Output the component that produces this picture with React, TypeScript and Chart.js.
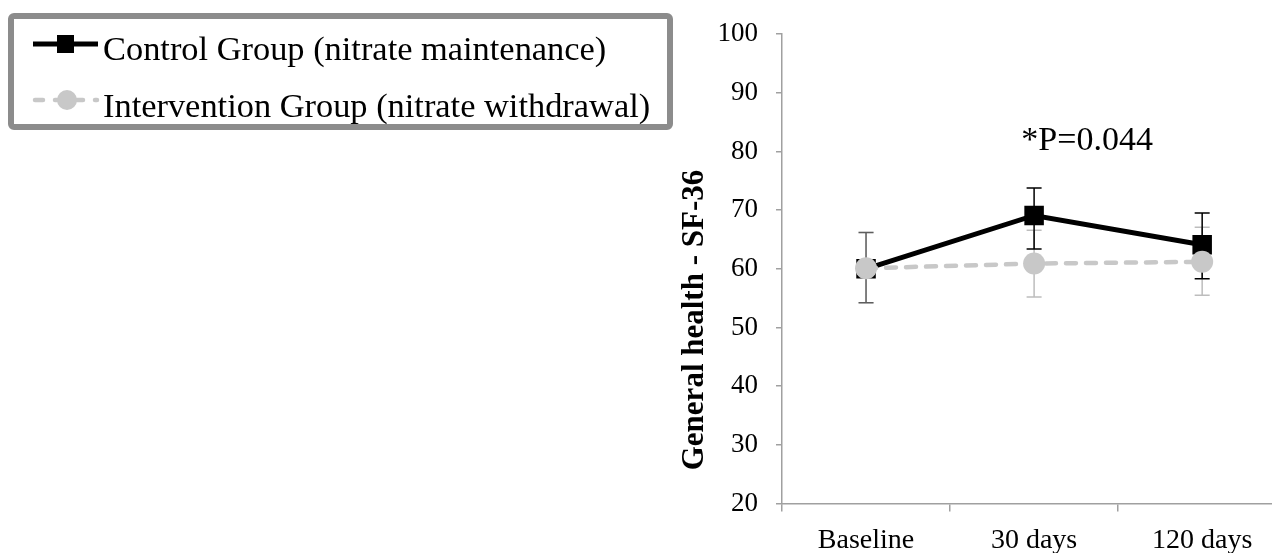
import React, { useEffect, useRef } from "react";
import { Chart, registerables } from "chart.js";

Chart.register(...registerables);

const categories = ["Baseline", "30 days", "120 days"];
const controlValues = [60.0, 69.1, 64.1];
const controlHigh = [66.2, 73.8, 69.5];
const controlLow = [54.2, 63.4, 58.3];
const interventionValues = [60.1, 60.9, 61.2];
const interventionHigh = [66.2, 66.6, 67.1];
const interventionLow = [54.2, 55.2, 55.5];
const yMin = 20;
const yMax = 100;
const yStep = 10;
const legendLabels = [
  "Control Group (nitrate maintenance)",
  "Intervention Group (nitrate withdrawal)",
];
const annotationText = "*P=0.044";
const yTitleText = "General health - SF-36";

const SERIF = "'Liberation Serif', 'Times New Roman', serif";
const CONTROL_COLOR = "#000000";
const INTERVENTION_COLOR = "#c8c8c8";
const INTERVENTION_ERR = "#bdbdbd";
const AXIS_COLOR = "#a0a0a0";

const extrasPlugin = {
  id: "extras",
  beforeDatasetsDraw(chart: any) {
    const { ctx, scales } = chart;
    const xs = scales.x;
    const ys = scales.y;
    const series = [
      { hi: interventionHigh, lo: interventionLow, color: INTERVENTION_ERR },
      { hi: controlHigh, lo: controlLow, color: CONTROL_COLOR },
    ];
    ctx.save();
    ctx.lineWidth = 1.5;
    series.forEach((s, si) => {
      ctx.strokeStyle = s.color;
      s.hi.forEach((h, j) => {
        const x = xs.getPixelForValue(j);
        const yh = ys.getPixelForValue(h);
        const yl = ys.getPixelForValue(s.lo[j]);
        ctx.globalAlpha = si === 1 && j === 0 ? 0.5 : 1;
        ctx.beginPath();
        ctx.moveTo(x, yh);
        ctx.lineTo(x, yl);
        ctx.moveTo(x - 7.5, yh);
        ctx.lineTo(x + 7.5, yh);
        ctx.moveTo(x - 7.5, yl);
        ctx.lineTo(x + 7.5, yl);
        ctx.stroke();
      });
    });
    ctx.restore();
  },
  afterDraw(chart: any) {
    const { ctx, scales } = chart;
    ctx.save();
    // legend box
    ctx.strokeStyle = "#8c8c8c";
    ctx.lineWidth = 6;
    ctx.beginPath();
    (ctx as any).roundRect(11, 16, 659, 111, 3);
    ctx.stroke();

    // row 1: control
    const r1 = 44;
    ctx.strokeStyle = CONTROL_COLOR;
    ctx.lineWidth = 5;
    ctx.beginPath();
    ctx.moveTo(33, r1);
    ctx.lineTo(98, r1);
    ctx.stroke();
    ctx.fillStyle = CONTROL_COLOR;
    ctx.fillRect(57, r1 - 9, 17, 18);

    // row 2: intervention
    const r2 = 100;
    ctx.strokeStyle = INTERVENTION_COLOR;
    ctx.lineWidth = 4.5;
    ctx.lineCap = "round";
    ctx.setLineDash([8, 12]);
    ctx.beginPath();
    ctx.moveTo(35, r2);
    ctx.lineTo(97, r2);
    ctx.stroke();
    ctx.setLineDash([]);
    ctx.lineCap = "butt";
    ctx.fillStyle = INTERVENTION_COLOR;
    ctx.beginPath();
    ctx.arc(67, r2, 10, 0, Math.PI * 2);
    ctx.fill();

    ctx.fillStyle = "#000";
    ctx.font = `34.4px ${SERIF}`;
    ctx.textAlign = "left";
    ctx.textBaseline = "alphabetic";
    ctx.fillText(legendLabels[0], 103, 60);
    ctx.fillText(legendLabels[1], 103, 117);

    // annotation
    ctx.font = `34px ${SERIF}`;
    ctx.textAlign = "center";
    ctx.fillText(
      annotationText,
      (scales.x.getPixelForValue(1) + scales.x.getPixelForValue(2)) / 2 - 31,
      150
    );

    // y title
    ctx.translate(695, 320);
    ctx.rotate(-Math.PI / 2);
    ctx.font = `bold 31px ${SERIF}`;
    ctx.textAlign = "center";
    ctx.textBaseline = "middle";
    ctx.fillText(yTitleText, 0, 0);
    ctx.restore();
  },
};

export default function App() {
  const ref = useRef<HTMLCanvasElement | null>(null);

  useEffect(() => {
    if (!ref.current) return;
    const chart = new Chart(ref.current, {
      type: "line",
      data: {
        labels: categories,
        datasets: [
          {
            label: legendLabels[0],
            data: controlValues,
            borderColor: CONTROL_COLOR,
            backgroundColor: CONTROL_COLOR,
            borderWidth: 5,
            pointStyle: "rect",
            pointRadius: 13.8,
            pointBorderWidth: 0,
            pointBackgroundColor: CONTROL_COLOR,
            tension: 0,
            order: 1,
          },
          {
            label: legendLabels[1],
            data: interventionValues,
            borderColor: INTERVENTION_COLOR,
            backgroundColor: INTERVENTION_COLOR,
            borderWidth: 4.5,
            borderDash: [10, 10],
            borderCapStyle: "round",
            pointStyle: "circle",
            pointRadius: 11,
            pointBorderWidth: 0,
            pointBackgroundColor: INTERVENTION_COLOR,
            tension: 0,
            order: 0,
          },
        ],
      },
      options: {
        animation: false,
        responsive: false,
        maintainAspectRatio: false,
        layout: { padding: { top: 30, right: 5, left: 0, bottom: 0 } },
        plugins: {
          legend: { display: false },
          tooltip: { enabled: false },
        },
        scales: {
          x: {
            type: "category",
            offset: true,
            grid: {
              offset: true,
              drawOnChartArea: false,
              drawTicks: true,
              tickLength: 8,
              color: AXIS_COLOR,
              lineWidth: 1.5,
            },
            border: { display: true, color: AXIS_COLOR, width: 1.5 },
            ticks: {
              color: "#000",
              font: { family: SERIF, size: 28 },
              padding: 12,
              maxRotation: 0,
            },
            afterFit: (axis: any) => {
              axis.height = 49.5;
            },
          },
          y: {
            min: yMin,
            max: yMax,
            grid: {
              drawOnChartArea: false,
              drawTicks: true,
              tickLength: 6,
              color: AXIS_COLOR,
              lineWidth: 1.5,
            },
            border: { display: true, color: AXIS_COLOR, width: 1.5 },
            ticks: {
              stepSize: yStep,
              color: "#000",
              font: { family: SERIF, size: 27 },
              padding: 18,
            },
            afterFit: (axis: any) => {
              axis.width = 782;
            },
          },
        },
      },
      plugins: [extrasPlugin],
    });
    return () => chart.destroy();
  }, []);

  return (
    <div
      style={{
        position: "fixed",
        left: 0,
        top: 0,
        width: 1272,
        height: 553,
        overflow: "hidden",
        background: "#fff",
      }}
    >
      <canvas
        ref={ref}
        width={1300}
        height={553}
        style={{ display: "block", width: 1300, height: 553 }}
      />
    </div>
  );
}
